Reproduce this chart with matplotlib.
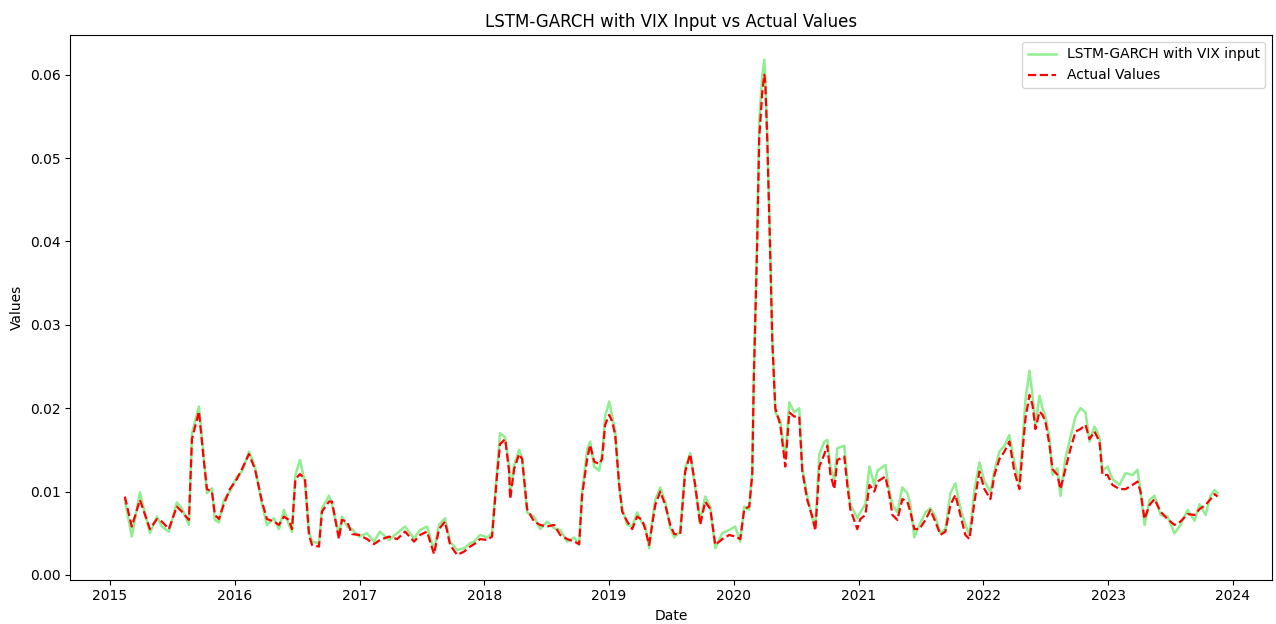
import pandas as pd
import matplotlib
matplotlib.use('Agg')
import matplotlib.pyplot as plt

# time in years after 2015-01-01
t_years = [
    0.120, 0.176, 0.241, 0.321, 0.377, 0.417, 0.473, 0.537, 0.577, 0.634,
    0.658, 0.714, 0.754, 0.778, 0.818, 0.842, 0.874, 0.914, 0.962, 1.018,
    1.059, 1.115, 1.163, 1.219, 1.259, 1.315, 1.355, 1.395, 1.435, 1.460,
    1.487, 1.524, 1.564, 1.596, 1.620, 1.676, 1.700, 1.756, 1.780, 1.836,
    1.860, 1.901, 1.941, 1.997, 2.061, 2.117, 2.165, 2.237, 2.302, 2.366,
    2.438, 2.486, 2.542, 2.598, 2.638, 2.686, 2.727, 2.783, 2.839, 2.887,
    2.920, 2.967, 3.023, 3.063, 3.103, 3.127, 3.168, 3.200, 3.208, 3.240,
    3.280, 3.304, 3.344, 3.400, 3.448, 3.504, 3.561, 3.609, 3.665, 3.721,
    3.761, 3.785, 3.825, 3.849, 3.881, 3.921, 3.945, 3.969, 4.002, 4.026,
    4.050, 4.082, 4.106, 4.146, 4.186, 4.226, 4.266, 4.290, 4.322, 4.346,
    4.371, 4.411, 4.451, 4.491, 4.523, 4.571, 4.611, 4.651, 4.691, 4.731,
    4.771, 4.812, 4.852, 4.908, 4.964, 5.012, 5.052, 5.084, 5.124, 5.148,
    5.160, 5.188, 5.204, 5.229, 5.245, 5.253, 5.269, 5.293, 5.309, 5.333,
    5.373, 5.413, 5.445, 5.485, 5.525, 5.549, 5.589, 5.629, 5.654, 5.686,
    5.726, 5.750, 5.774, 5.806, 5.830, 5.886, 5.910, 5.934, 5.990, 6.014,
    6.055, 6.087, 6.127, 6.151, 6.215, 6.247, 6.271, 6.311, 6.351, 6.391,
    6.415, 6.447, 6.488, 6.536, 6.576, 6.616, 6.656, 6.696, 6.736, 6.776,
    6.816, 6.856, 6.889, 6.929, 6.969, 7.009, 7.057, 7.089, 7.129, 7.169,
    7.209, 7.249, 7.289, 7.314, 7.338, 7.370, 7.394, 7.418, 7.450, 7.474,
    7.498, 7.530, 7.554, 7.594, 7.618, 7.658, 7.698, 7.739, 7.779, 7.819,
    7.851, 7.891, 7.931, 7.955, 7.995, 8.035, 8.091, 8.140, 8.196, 8.236,
    8.260, 8.292, 8.332, 8.372, 8.420, 8.476, 8.532, 8.580, 8.637, 8.693,
    8.733, 8.781, 8.821, 8.853, 8.877,
]

actual = [
    0.0094, 0.0058, 0.0090, 0.0055, 0.0067, 0.0064, 0.0055, 0.0082, 0.0076, 0.0066,
    0.0163, 0.0196, 0.0136, 0.0103, 0.0100, 0.0072, 0.0067, 0.0085, 0.0103, 0.0115,
    0.0127, 0.0145, 0.0127, 0.0088, 0.0067, 0.0064, 0.0060, 0.0070, 0.0066, 0.0055,
    0.0115, 0.0121, 0.0115, 0.0048, 0.0036, 0.0034, 0.0076, 0.0088, 0.0088, 0.0043,
    0.0066, 0.0064, 0.0049, 0.0048, 0.0043, 0.0037, 0.0042, 0.0046, 0.0043, 0.0052,
    0.0040, 0.0048, 0.0052, 0.0025, 0.0055, 0.0064, 0.0036, 0.0024, 0.0028, 0.0034,
    0.0037, 0.0043, 0.0042, 0.0046, 0.0120, 0.0157, 0.0163, 0.0124, 0.0091, 0.0127,
    0.0145, 0.0139, 0.0079, 0.0064, 0.0060, 0.0058, 0.0060, 0.0048, 0.0043, 0.0040,
    0.0037, 0.0096, 0.0139, 0.0156, 0.0136, 0.0133, 0.0139, 0.0180, 0.0192, 0.0184,
    0.0168, 0.0108, 0.0076, 0.0064, 0.0055, 0.0070, 0.0066, 0.0055, 0.0036, 0.0060,
    0.0084, 0.0100, 0.0084, 0.0060, 0.0049, 0.0049, 0.0124, 0.0145, 0.0108, 0.0060,
    0.0088, 0.0079, 0.0036, 0.0043, 0.0048, 0.0046, 0.0043, 0.0079, 0.0082, 0.0120,
    0.0230, 0.0400, 0.0524, 0.0580, 0.0600, 0.0590, 0.0520, 0.0380, 0.0280, 0.0200,
    0.0180, 0.0130, 0.0195, 0.0190, 0.0190, 0.0125, 0.0090, 0.0070, 0.0053, 0.0130,
    0.0145, 0.0155, 0.0121, 0.0103, 0.0138, 0.0142, 0.0108, 0.0079, 0.0055, 0.0067,
    0.0072, 0.0108, 0.0100, 0.0112, 0.0118, 0.0096, 0.0072, 0.0066, 0.0091, 0.0088,
    0.0076, 0.0055, 0.0055, 0.0066, 0.0078, 0.0064, 0.0048, 0.0052, 0.0084, 0.0096,
    0.0072, 0.0048, 0.0043, 0.0088, 0.0124, 0.0103, 0.0091, 0.0120, 0.0139, 0.0148,
    0.0160, 0.0124, 0.0103, 0.0148, 0.0188, 0.0216, 0.0204, 0.0175, 0.0196, 0.0192,
    0.0184, 0.0156, 0.0127, 0.0120, 0.0103, 0.0127, 0.0151, 0.0172, 0.0175, 0.0180,
    0.0163, 0.0172, 0.0160, 0.0120, 0.0120, 0.0108, 0.0103, 0.0103, 0.0108, 0.0112,
    0.0100, 0.0067, 0.0084, 0.0091, 0.0076, 0.0067, 0.0060, 0.0064, 0.0073, 0.0072,
    0.0079, 0.0084, 0.0091, 0.0097, 0.0094,
]

lstm_vix = [
    0.0090, 0.0046, 0.0099, 0.0050, 0.0070, 0.0058, 0.0052, 0.0087, 0.0080, 0.0060,
    0.0170, 0.0202, 0.0140, 0.0098, 0.0104, 0.0066, 0.0063, 0.0090, 0.0100, 0.0118,
    0.0124, 0.0148, 0.0130, 0.0085, 0.0060, 0.0068, 0.0055, 0.0078, 0.0060, 0.0052,
    0.0120, 0.0138, 0.0110, 0.0052, 0.0040, 0.0038, 0.0080, 0.0095, 0.0085, 0.0048,
    0.0070, 0.0058, 0.0055, 0.0046, 0.0050, 0.0040, 0.0052, 0.0042, 0.0050, 0.0058,
    0.0044, 0.0054, 0.0058, 0.0030, 0.0060, 0.0068, 0.0040, 0.0030, 0.0032, 0.0038,
    0.0040, 0.0048, 0.0045, 0.0050, 0.0125, 0.0170, 0.0165, 0.0130, 0.0098, 0.0132,
    0.0150, 0.0140, 0.0075, 0.0070, 0.0055, 0.0064, 0.0056, 0.0054, 0.0040, 0.0045,
    0.0036, 0.0100, 0.0150, 0.0160, 0.0130, 0.0125, 0.0145, 0.0190, 0.0208, 0.0190,
    0.0172, 0.0105, 0.0080, 0.0060, 0.0058, 0.0075, 0.0062, 0.0060, 0.0032, 0.0065,
    0.0090, 0.0105, 0.0088, 0.0056, 0.0045, 0.0052, 0.0128, 0.0146, 0.0104, 0.0065,
    0.0094, 0.0082, 0.0032, 0.0050, 0.0054, 0.0058, 0.0040, 0.0082, 0.0078, 0.0125,
    0.0235, 0.0405, 0.0545, 0.0600, 0.0618, 0.0595, 0.0525, 0.0385, 0.0285, 0.0195,
    0.0185, 0.0140, 0.0207, 0.0195, 0.0200, 0.0128, 0.0095, 0.0068, 0.0060, 0.0145,
    0.0160, 0.0162, 0.0130, 0.0115, 0.0152, 0.0155, 0.0115, 0.0085, 0.0068, 0.0075,
    0.0085, 0.0130, 0.0108, 0.0125, 0.0132, 0.0100, 0.0085, 0.0075, 0.0105, 0.0098,
    0.0085, 0.0045, 0.0060, 0.0075, 0.0080, 0.0070, 0.0050, 0.0055, 0.0098, 0.0110,
    0.0080, 0.0060, 0.0048, 0.0102, 0.0135, 0.0112, 0.0100, 0.0125, 0.0148, 0.0155,
    0.0168, 0.0135, 0.0110, 0.0160, 0.0210, 0.0245, 0.0215, 0.0180, 0.0215, 0.0200,
    0.0190, 0.0165, 0.0120, 0.0128, 0.0095, 0.0140, 0.0165, 0.0190, 0.0200, 0.0195,
    0.0160, 0.0178, 0.0165, 0.0125, 0.0130, 0.0115, 0.0108, 0.0122, 0.0120, 0.0126,
    0.0100, 0.0060, 0.0090, 0.0095, 0.0072, 0.0070, 0.0050, 0.0060, 0.0078, 0.0065,
    0.0085, 0.0072, 0.0095, 0.0102, 0.0098,
]

start = pd.Timestamp('2015-01-01')
dates = [start + pd.Timedelta(days=t * 365.25) for t in t_years]

plt.figure(figsize=(12.76, 6.24), dpi=100)
plt.plot(dates, lstm_vix, color='lightgreen', linewidth=1.8, label='LSTM-GARCH with VIX input')
plt.plot(dates, actual, 'r--', linewidth=1.6, label='Actual Values')
plt.title('LSTM-GARCH with VIX Input vs Actual Values')
plt.xlabel('Date')
plt.ylabel('Values')
plt.legend(loc='upper right')
plt.subplots_adjust(left=0.055, right=0.997, top=0.944, bottom=0.071)
plt.savefig('out.png', dpi=100)
